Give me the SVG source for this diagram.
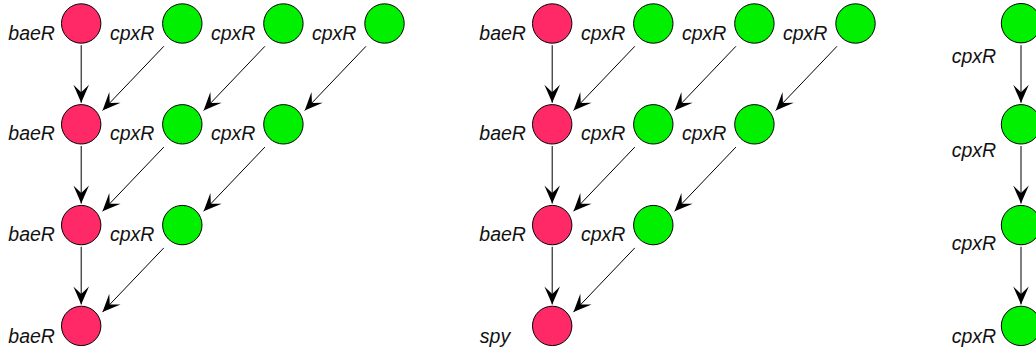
<svg xmlns="http://www.w3.org/2000/svg" width="1036" height="353" viewBox="0 0 1036 353">
  <style>
    .bae { fill: #FF2968; stroke: #000; stroke-width: 1; }
    .cpx { fill: #00F000; stroke: #000; stroke-width: 1; }
    .lbl { font-family: "Liberation Sans", Arial, Helvetica, sans-serif; font-style: italic; font-size: 19.5px; fill: #111; }
    .edge { stroke: #000; stroke-width: 1; fill: none; marker-end: url(#vee); }
  </style>
  <defs>
    <marker id="vee" markerUnits="userSpaceOnUse" viewBox="-19 -9 20 18" refX="0" refY="0" markerWidth="20" markerHeight="18" orient="auto">
      <path d="M0,0 L-18,-7.8 L-10.5,0 L-18,7.8 Z" fill="#000"/>
    </marker>
  </defs>

  <!-- left cascade: baeR chain fed by cpxR columns -->
  <g id="panel-a">
    <g id="connectors-a">
      <line class="edge" x1="81.2" y1="45.2" x2="81.2" y2="102.8"/>
      <line class="edge" x1="81.2" y1="146" x2="81.2" y2="203.6"/>
      <line class="edge" x1="81.2" y1="246.8" x2="81.2" y2="304.4"/>
      <line class="edge" x1="163.8" y1="46.3" x2="102.5" y2="110.5"/>
      <line class="edge" x1="264.9" y1="46.3" x2="203.6" y2="110.5"/>
      <line class="edge" x1="366" y1="46.3" x2="304.7" y2="110.5"/>
      <line class="edge" x1="163.8" y1="147.1" x2="102.5" y2="211.3"/>
      <line class="edge" x1="264.9" y1="147.1" x2="203.6" y2="211.3"/>
      <line class="edge" x1="163.8" y1="247.9" x2="102.5" y2="312.1"/>
    </g>
    <g id="a-bae1"><circle class="bae" cx="81.2" cy="23.5" r="19.7"/><text class="lbl" x="8.3" y="39.5">baeR</text></g>
    <g id="a-cpx12"><circle class="cpx" cx="182.3" cy="23.5" r="19.7"/><text class="lbl" x="110" y="39.5">cpxR</text></g>
    <g id="a-cpx13"><circle class="cpx" cx="283.4" cy="23.5" r="19.7"/><text class="lbl" x="211" y="39.5">cpxR</text></g>
    <g id="a-cpx14"><circle class="cpx" cx="384.5" cy="23.5" r="19.7"/><text class="lbl" x="312" y="39.5">cpxR</text></g>
    <g id="a-bae2"><circle class="bae" cx="81.2" cy="124.3" r="19.7"/><text class="lbl" x="8.3" y="139.5">baeR</text></g>
    <g id="a-cpx22"><circle class="cpx" cx="182.3" cy="124.3" r="19.7"/><text class="lbl" x="110" y="139.5">cpxR</text></g>
    <g id="a-cpx23"><circle class="cpx" cx="283.4" cy="124.3" r="19.7"/><text class="lbl" x="211" y="139.5">cpxR</text></g>
    <g id="a-bae3"><circle class="bae" cx="81.2" cy="225.1" r="19.7"/><text class="lbl" x="8.3" y="240.5">baeR</text></g>
    <g id="a-cpx32"><circle class="cpx" cx="182.3" cy="225.1" r="19.7"/><text class="lbl" x="110" y="240.5">cpxR</text></g>
    <g id="a-bae4"><circle class="bae" cx="81.2" cy="325.9" r="19.7"/><text class="lbl" x="8.3" y="343">baeR</text></g>
  </g>

  <!-- middle cascade: same layout, ending in spy -->
  <g id="panel-b" transform="translate(471,0)">
    <g id="connectors-b">
      <line class="edge" x1="81.2" y1="45.2" x2="81.2" y2="102.8"/>
      <line class="edge" x1="81.2" y1="146" x2="81.2" y2="203.6"/>
      <line class="edge" x1="81.2" y1="246.8" x2="81.2" y2="304.4"/>
      <line class="edge" x1="163.8" y1="46.3" x2="102.5" y2="110.5"/>
      <line class="edge" x1="264.9" y1="46.3" x2="203.6" y2="110.5"/>
      <line class="edge" x1="366" y1="46.3" x2="304.7" y2="110.5"/>
      <line class="edge" x1="163.8" y1="147.1" x2="102.5" y2="211.3"/>
      <line class="edge" x1="264.9" y1="147.1" x2="203.6" y2="211.3"/>
      <line class="edge" x1="163.8" y1="247.9" x2="102.5" y2="312.1"/>
    </g>
    <g id="b-bae1"><circle class="bae" cx="81.2" cy="23.5" r="19.7"/><text class="lbl" x="8.3" y="39.5">baeR</text></g>
    <g id="b-cpx12"><circle class="cpx" cx="182.3" cy="23.5" r="19.7"/><text class="lbl" x="110" y="39.5">cpxR</text></g>
    <g id="b-cpx13"><circle class="cpx" cx="283.4" cy="23.5" r="19.7"/><text class="lbl" x="211" y="39.5">cpxR</text></g>
    <g id="b-cpx14"><circle class="cpx" cx="384.5" cy="23.5" r="19.7"/><text class="lbl" x="312" y="39.5">cpxR</text></g>
    <g id="b-bae2"><circle class="bae" cx="81.2" cy="124.3" r="19.7"/><text class="lbl" x="8.3" y="139.5">baeR</text></g>
    <g id="b-cpx22"><circle class="cpx" cx="182.3" cy="124.3" r="19.7"/><text class="lbl" x="110" y="139.5">cpxR</text></g>
    <g id="b-cpx23"><circle class="cpx" cx="283.4" cy="124.3" r="19.7"/><text class="lbl" x="211" y="139.5">cpxR</text></g>
    <g id="b-bae3"><circle class="bae" cx="81.2" cy="225.1" r="19.7"/><text class="lbl" x="8.3" y="240.5">baeR</text></g>
    <g id="b-cpx32"><circle class="cpx" cx="182.3" cy="225.1" r="19.7"/><text class="lbl" x="110" y="240.5">cpxR</text></g>
    <g id="b-spy"><circle class="bae" cx="81.2" cy="325.9" r="19.7"/><text class="lbl" x="8.8" y="343">spy</text></g>
  </g>

  <!-- right column: cpxR chain -->
  <g id="panel-c">
    <g id="connectors-c">
      <line class="edge" x1="1021" y1="45.2" x2="1021" y2="102.8"/>
      <line class="edge" x1="1021" y1="146" x2="1021" y2="203.6"/>
      <line class="edge" x1="1021" y1="246.8" x2="1021" y2="304.4"/>
    </g>
    <g id="c-cpx1"><circle class="cpx" cx="1021" cy="23.2" r="19.7"/><text class="lbl" x="951.7" y="63.3">cpxR</text></g>
    <g id="c-cpx2"><circle class="cpx" cx="1021" cy="124.3" r="19.7"/><text class="lbl" x="951.7" y="156.7">cpxR</text></g>
    <g id="c-cpx3"><circle class="cpx" cx="1021" cy="225.1" r="19.7"/><text class="lbl" x="951.7" y="250">cpxR</text></g>
    <g id="c-cpx4"><circle class="cpx" cx="1021" cy="325.9" r="19.7"/><text class="lbl" x="951.7" y="343">cpxR</text></g>
  </g>
</svg>
